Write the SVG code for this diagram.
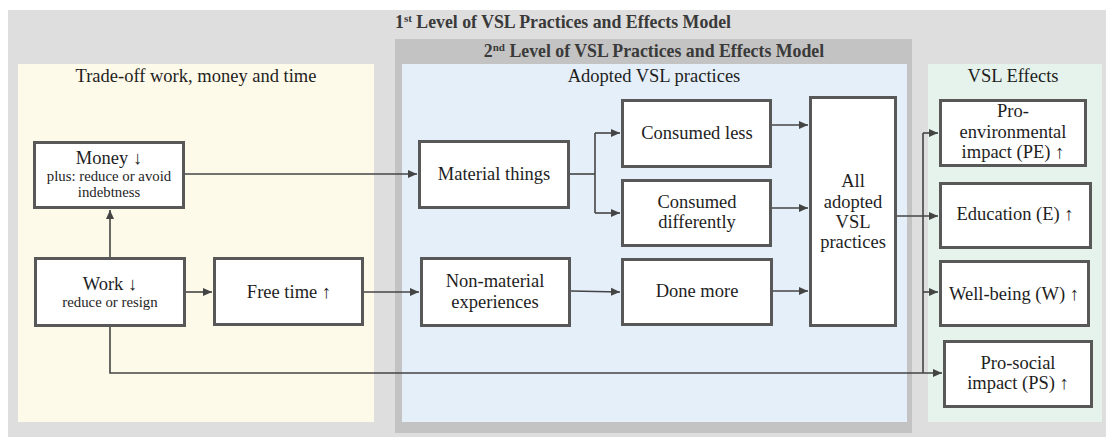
<svg xmlns="http://www.w3.org/2000/svg" width="1106" height="437" viewBox="0 0 1106 437" font-family="'Liberation Serif', 'Times New Roman', serif">
<style>
text{font-family:"Liberation Serif","Times New Roman",serif}
.t{fill:#1e1e1e;text-anchor:middle}
.box{fill:#fff;stroke:#585858;stroke-width:3}
.ttl{fill:#3a3a3a;font-weight:bold;font-size:17.8px;text-anchor:middle}
.b{font-size:18.5px}
.s{font-size:14.8px}
.c{fill:none;stroke:#444;stroke-width:1.6}
</style>
<defs>
<marker id="ah" markerUnits="userSpaceOnUse" markerWidth="10" markerHeight="10" refX="9" refY="5" orient="auto">
<path d="M0,1 L9,5 L0,9 z" fill="#444"/>
</marker>
</defs>
<rect x="8" y="10" width="1098" height="427" fill="#dedede"/>
<rect x="395" y="39" width="517" height="394" fill="#c3c3c3"/>
<rect x="18" y="64" width="356" height="358" fill="#fefae9"/>
<rect x="402" y="64" width="505" height="358" fill="#e5eff9"/>
<rect x="928" y="64" width="174" height="358" fill="#e6f3ec"/>
<text class="ttl" x="563" y="28">1<tspan font-size="11" dy="-6">st</tspan><tspan dy="6"> Level of VSL Practices and Effects Model</tspan></text>
<text class="ttl" x="654" y="57">2<tspan font-size="11" dy="-6">nd</tspan><tspan dy="6"> Level of VSL Practices and Effects Model</tspan></text>
<text class="t b" x="196" y="82">Trade-off work, money and time</text>
<text class="t b" x="654" y="82">Adopted VSL practices</text>
<text class="t b" x="1013" y="82">VSL Effects</text>
<g id="connectors">
<path class="c" d="M185,174 H417" marker-end="url(#ah)"/>
<path class="c" d="M110,257 V210" marker-end="url(#ah)"/>
<path class="c" d="M186,292 H212" marker-end="url(#ah)"/>
<path class="c" d="M364,292 H419" marker-end="url(#ah)"/>
<path class="c" d="M110,327 V373 H942" marker-end="url(#ah)"/>
<path class="c" d="M570,174 H595"/>
<path class="c" d="M595,133 V213"/>
<path class="c" d="M595,133 H620" marker-end="url(#ah)"/>
<path class="c" d="M595,213 H620" marker-end="url(#ah)"/>
<path class="c" d="M571,291 L620,292" marker-end="url(#ah)"/>
<path class="c" d="M772,125 H808" marker-end="url(#ah)"/>
<path class="c" d="M772,208 H808" marker-end="url(#ah)"/>
<path class="c" d="M773,291 H808" marker-end="url(#ah)"/>
<path class="c" d="M897,216 H938" marker-end="url(#ah)"/>
<path class="c" d="M923,133 V373"/>
<path class="c" d="M923,133 H938" marker-end="url(#ah)"/>
<path class="c" d="M923,292 H938" marker-end="url(#ah)"/>
</g>
<g id="money"><rect class="box" x="34.5" y="142.5" width="149" height="65"/>
<text class="t b" x="109" y="164">Money ↓</text>
<text class="t s" x="109" y="181">plus: reduce or avoid</text>
<text class="t s" x="109" y="197">indebtness</text></g>
<g id="work"><rect class="box" x="35.5" y="258.5" width="149" height="67"/>
<text class="t b" x="110" y="290">Work ↓</text>
<text class="t s" x="110" y="307">reduce or resign</text></g>
<g id="freetime"><rect class="box" x="214.5" y="258.5" width="148" height="66"/>
<text class="t b" x="289" y="298">Free time ↑</text></g>
<g id="material"><rect class="box" x="419.5" y="141.5" width="149" height="66"/>
<text class="t b" x="494" y="180">Material things</text></g>
<g id="nonmaterial"><rect class="box" x="421.5" y="258.5" width="148" height="67"/>
<text class="t b" x="495" y="287">Non-material</text>
<text class="t b" x="495" y="308">experiences</text></g>
<g id="consumedless"><rect class="box" x="622.5" y="100.5" width="148" height="66"/>
<text class="t b" x="697" y="139">Consumed less</text></g>
<g id="consumeddiff"><rect class="box" x="622.5" y="180.5" width="148" height="65"/>
<text class="t b" x="697" y="208">Consumed</text>
<text class="t b" x="697" y="228">differently</text></g>
<g id="donemore"><rect class="box" x="622.5" y="259.5" width="149" height="65"/>
<text class="t b" x="697" y="297">Done more</text></g>
<g id="alladopted"><rect class="box" x="810.5" y="97.5" width="85" height="228"/>
<text class="t b" x="853" y="187">All</text>
<text class="t b" x="853" y="208">adopted</text>
<text class="t b" x="853" y="228">VSL</text>
<text class="t b" x="853" y="248">practices</text></g>
<g id="proenv"><rect class="box" x="940.5" y="100.5" width="145" height="65"/>
<text class="t b" x="1013" y="117">Pro-</text>
<text class="t b" x="1013" y="138">environmental</text>
<text class="t b" x="1013" y="158">impact (PE) ↑</text></g>
<g id="education"><rect class="box" x="940.5" y="183.5" width="150" height="64"/>
<text class="t b" x="1015" y="220">Education (E) ↑</text></g>
<g id="wellbeing"><rect class="box" x="940.5" y="261.5" width="148" height="64"/>
<text class="t b" x="1014" y="300">Well-being (W) ↑</text></g>
<g id="prosocial"><rect class="box" x="944.5" y="341.5" width="147" height="65"/>
<text class="t b" x="1018" y="369">Pro-social</text>
<text class="t b" x="1018" y="389">impact (PS) ↑</text></g>
</svg>
